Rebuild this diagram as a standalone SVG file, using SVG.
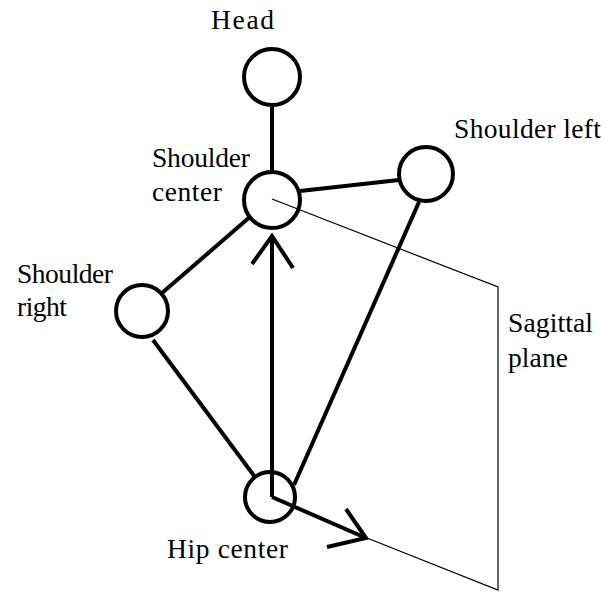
<svg xmlns="http://www.w3.org/2000/svg" width="605" height="592" viewBox="0 0 605 592">
<style>
.j{fill:none;stroke:#000;stroke-width:4}
.b{fill:none;stroke:#000;stroke-width:4;stroke-linecap:butt}
.t{fill:none;stroke:#000;stroke-width:1.2}
text{font-family:"Liberation Serif","Times New Roman",serif;font-size:27.5px;fill:#000}
</style>
<rect width="605" height="592" fill="#fff"/>
<g id="connectors">
<line class="b" x1="272" y1="105" x2="272" y2="172"/>
<line class="b" x1="300" y1="191" x2="399" y2="180"/>
<line class="b" x1="251" y1="216" x2="162" y2="293"/>
<line class="b" x1="153" y1="340" x2="255" y2="477"/>
<line class="b" x1="419" y1="202" x2="294" y2="485"/>
<line class="b" x1="272" y1="497" x2="272" y2="236"/>
<polyline class="b" points="252,264 272,236 293,268"/>
<line class="b" x1="272" y1="497" x2="366" y2="538"/>
<polyline class="b" points="346,509 366,538 327,547"/>
<polyline class="t" points="272,199 498,287 498,590 367,538"/>
</g>
<g id="head"><circle class="j" cx="272" cy="77" r="28"/><text x="211" y="29" textLength="63">Head</text></g>
<g id="shoulder-center"><circle class="j" cx="272" cy="200" r="28"/><text x="152" y="167" textLength="98">Shoulder</text><text x="152" y="201" textLength="70">center</text></g>
<g id="shoulder-left"><circle class="j" cx="426" cy="174" r="27"/><text x="454" y="138" textLength="147">Shoulder left</text></g>
<g id="shoulder-right"><circle class="j" cx="142" cy="311" r="26"/><text x="17" y="283" textLength="96">Shoulder</text><text x="17" y="316" textLength="50">right</text></g>
<g id="hip-center"><circle class="j" cx="270" cy="497" r="25"/><text x="167" y="558" textLength="121">Hip center</text></g>
<g id="sagittal"><text x="508" y="332" textLength="85">Sagittal</text><text x="508" y="367" textLength="60">plane</text></g>
</svg>
